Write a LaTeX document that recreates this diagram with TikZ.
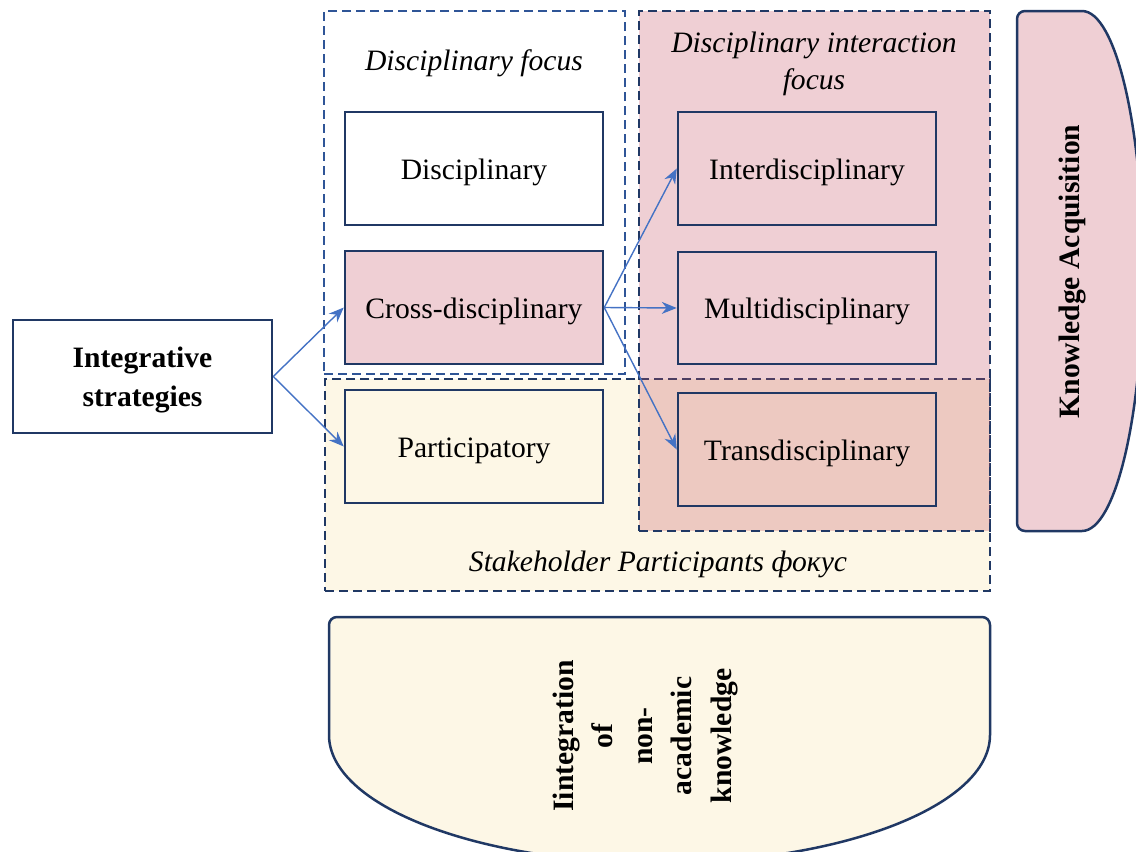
\documentclass[tikz,border=0pt]{standalone}
\usepackage{fontspec}
\setmainfont{Liberation Serif}
\usetikzlibrary{arrows.meta}
\definecolor{navy}{RGB}{32,56,100}
\definecolor{dblue}{RGB}{47,85,151}
\definecolor{arrowblue}{RGB}{68,114,196}
\definecolor{pinkbase}{RGB}{196,78,96}
\definecolor{pinkfill}{RGB}{239,207,212}
\definecolor{cream}{RGB}{253,247,230}
\begin{document}
\begin{tikzpicture}[x=0.5pt,y=-0.5pt,
  txt/.style={font=\fontsize{14.8}{18.5}\selectfont},
  box/.style={draw=navy, line width=1.25pt, minimum width=129pt, minimum height=56.5pt, inner sep=0pt, align=center, txt},
  onebox/.style={box, text height=10.8pt, text depth=0pt},
  region/.style={draw=navy, line width=1pt, dash pattern=on 4.5pt off 2.5pt, inner sep=0pt},
  conn/.style={draw=arrowblue, line width=0.7pt, -{Stealth[length=7.5pt,width=6pt]}},
  ital/.style={font=\fontsize{14.8}{18.5}\selectfont\itshape, align=center},
  boldlbl/.style={font=\fontsize{14.8}{18.5}\selectfont\bfseries, align=center},
  shapeline/.style={draw=navy, line width=1.25pt},
]
\useasboundingbox (0,0) rectangle (1136,852);
% regions
\node[region, draw=dblue, minimum width=150.5pt, minimum height=181.5pt] (dfocus) at (474.5,192.5) {};
\node[region, fill=cream, minimum width=332.5pt, minimum height=106pt] (sfocus) at (657.5,485) {};
\node[region, fill=pinkbase, fill opacity=0.27, minimum width=175.5pt, minimum height=260pt] (ifocus) at (814.5,271) {};
% region labels
\node[ital] (dfocuslbl) at (474,63) {Disciplinary focus};
\node[ital] (ifocuslbl) at (814,63.5) {Disciplinary interaction\\focus};
\node[ital] (sfocuslbl) at (658,564) {Stakeholder Participants фокус};
% boxes
\node[box, font=\fontsize{14.8}{18.5}\selectfont\bfseries, fill=white, minimum width=129.5pt] (integ) at (142.5,376.5) {\raisebox{-1.5pt}[\height][\depth]{\begin{tabular}{@{}c@{}}Integrative\\[1pt]strategies\end{tabular}}};
\node[onebox, fill=white] (disc) at (474,168.5) {Disciplinary};
\node[onebox, fill=pinkfill] (cross) at (474,307.5) {Cross-disciplinary};
\node[onebox, fill=cream] (partic) at (474,446.5) {Participatory};
\node[onebox] (inter) at (807,168.5) {Interdisciplinary};
\node[onebox, minimum height=56pt] (multi) at (807,308) {Multidisciplinary};
\node[onebox] (trans) at (807,449.5) {Transdisciplinary};
% knowledge acquisition shape
\path[shapeline, fill=pinkfill] (1082,11) arc[start angle=90,end angle=-90,x radius=30.5pt,y radius=130pt]
  -- (1025,531) arc[start angle=-90,end angle=-180,radius=4pt]
  -- (1017,19) arc[start angle=180,end angle=90,radius=4pt] -- cycle;
\node[boldlbl, rotate=90] (ka) at (1072,271.5) {Knowledge Acquisition};
% non-academic knowledge shape
\path[shapeline, fill=cream] (990,735) arc[start angle=0,end angle=-180,x radius=165.25pt,y radius=64pt]
  -- (329,625) arc[start angle=180,end angle=90,radius=4pt]
  -- (982,617) arc[start angle=90,end angle=0,radius=4pt] -- cycle;
\node[boldlbl, rotate=90, font=\fontsize{14.8}{19.75}\selectfont\bfseries] (nak) at (645,736) {Iintegration\\of\\non-\\academic\\knowledge};
% connectors
\draw[conn] (integ.east) -- (cross.west);
\draw[conn] (integ.east) -- (partic.west);
\draw[conn] (cross.east) -- (inter.west);
\draw[conn] (cross.east) -- (multi.west);
\draw[conn] (cross.east) -- (trans.west);
\end{tikzpicture}
\end{document}
